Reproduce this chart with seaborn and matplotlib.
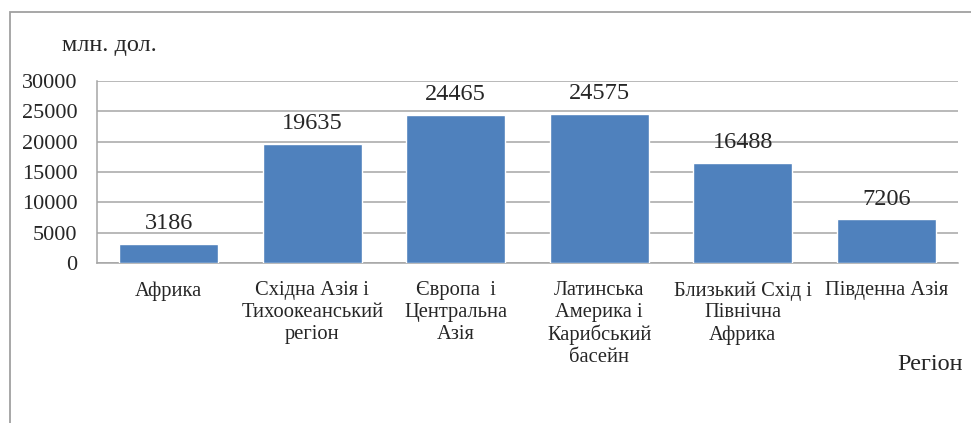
import pandas as pd
import seaborn as sns
import matplotlib.pyplot as plt
from matplotlib.patches import Rectangle
from matplotlib.ticker import FixedLocator

# Data
regions = [
    "Африка",
    "Східна Азія і\nТихоокеанський\nрегіон",
    "Європа  і\nЦентральна\nАзія",
    "Латинська\nАмерика і\nКарибський\nбасейн",
    "Близький Схід і\nПівнічна\nАфрика",
    "Південна Азія",
]
values = [3186, 19635, 24465, 24575, 16488, 7206]
y_ticks = [0, 5000, 10000, 15000, 20000, 25000, 30000]

BAR_COLOR = "#4F81BD"
GRID_COLOR = "#A6A6A6"

df = pd.DataFrame({"Region": regions, "Value": values})

sns.set_style("white")
plt.rcParams["font.family"] = ["Liberation Serif", "DejaVu Serif"]

fig = plt.figure(figsize=(9.71, 4.23), dpi=100)
ax = fig.add_axes([97 / 971, 1 - 263 / 423, (958 - 97) / 971, (263 - 81) / 423])

sns.barplot(data=df, x="Region", y="Value", hue="Region",
            palette=[BAR_COLOR] * len(regions), legend=False,
            width=0.69, saturation=1, ax=ax, zorder=3)

# value labels above bars
for i, v in enumerate(values):
    ax.annotate(str(v), (i, v), xytext=(0, 7), textcoords="offset points",
                ha="center", va="bottom", fontsize=17.5, zorder=4)

ax.set_ylim(0, 30000)
ax.set_xlim(-0.5, len(regions) - 0.5)
ax.set_yticks(y_ticks)
ax.set_yticklabels([str(t) for t in y_ticks], fontsize=16)
ax.yaxis.grid(True, color=GRID_COLOR, linewidth=1.1, zorder=0)
ax.tick_params(axis="y", which="major", length=6, color=GRID_COLOR, width=1.1, pad=8)

# category labels without tick marks, tick marks at category boundaries
ax.set_xticks(range(len(regions)))
ax.set_xticklabels(regions, fontsize=14.8, linespacing=1.2, va="top")
ax.tick_params(axis="x", which="major", length=0, pad=13)
ax.xaxis.set_minor_locator(FixedLocator([i - 0.5 for i in range(len(regions) + 1)]))
ax.tick_params(axis="x", which="minor", length=6, color=GRID_COLOR, width=1.1, direction="out")

for side in ["top", "right"]:
    ax.spines[side].set_visible(False)
for side in ["left", "bottom"]:
    ax.spines[side].set_color(GRID_COLOR)
    ax.spines[side].set_linewidth(1.1)

ax.set_xlabel("")
ax.set_ylabel("")

fig.text(62 / 971, 1 - 45 / 423, "млн. дол.", fontsize=17.5, ha="left", va="center")
fig.text(963 / 971, 1 - 364 / 423, "Регіон", fontsize=17.5, ha="right", va="center")

# outer chart frame (cropped at right and bottom)
fig.patches.append(Rectangle((10 / 971, -0.2), 1.2, 1 - 12 / 423 + 0.2,
                             transform=fig.transFigure, fill=False,
                             edgecolor="#A0A0A0", linewidth=1.3))

fig.savefig("out.png", dpi=100)
